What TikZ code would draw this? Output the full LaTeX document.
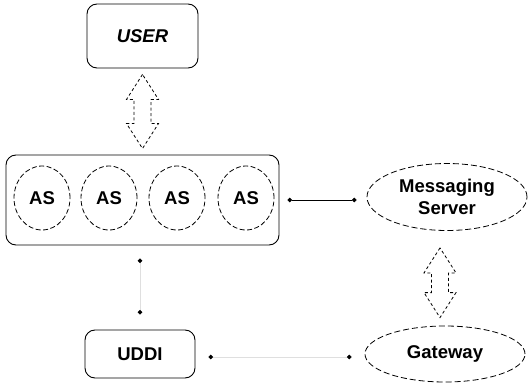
\documentclass[tikz,border=0pt]{standalone}
\usepackage{fontspec}
\setmainfont{Liberation Sans}
\usetikzlibrary{shapes.geometric,arrows.meta,calc}

\tikzset{
    label font/.style={font=\fontsize{18.5}{22}\selectfont\bfseries},
    roundbox/.style={draw, rounded corners=10pt, line width=0.9pt, label font},
    agent/.style={draw, ellipse, dashed, dash pattern=on 5pt off 2.5pt, line width=0.8pt, minimum width=56, minimum height=64, inner sep=0pt, label font},
    server/.style={draw, ellipse, dash pattern=on 6pt off 3pt, line width=0.8pt, inner sep=0pt, align=center, label font},
    link/.style={line width=0.7pt, {Circle[black,length=4.5pt]}-{Circle[black,length=4.5pt]}},
    faintlink/.style={link, draw=gray!25},
    blockarrow/.style={draw, dash pattern=on 3pt off 2.5pt, line width=0.8pt},
}

% vertical hollow double arrow between two points
\newcommand{\dblarrow}[2]{%
    \draw[blockarrow] let \p1=(#1), \p2=(#2) in
        (\p1) -- (\x1-16,\y1-25) -- (\x1-8.5,\y1-25) -- (\x1-8.5,\y2+25)
        -- (\x1-16,\y2+25) -- (\p2) -- (\x1+16,\y2+25) -- (\x1+8.5,\y2+25)
        -- (\x1+8.5,\y1-25) -- (\x1+16,\y1-25) -- cycle;
}

\begin{document}
\begin{tikzpicture}[x=1pt,y=-1pt]
    \useasboundingbox (0,0) rectangle (528,385);

        \node[roundbox, minimum width=111, minimum height=64] (user) at (142.5,36) {\itshape USER};
        \node[roundbox, minimum width=273, minimum height=90] (asbox) at (142.5,200) {};
        \node[agent] (as1) at (42,198) {AS};
        \node[agent] (as2) at (109,198) {AS};
        \node[agent] (as3) at (177,198) {AS};
        \node[agent] (as4) at (246,198) {AS};
        \node[server, minimum width=160, minimum height=67] (msg) at (447,197) {Messaging\\Server};
        \node[roundbox, minimum width=110, minimum height=48] (uddi) at (140,354) {UDDI};
        \node[server, minimum width=160, minimum height=56] (gw) at (445,354) {Gateway};

        \coordinate (usertip) at ($(user.south)+(0,6)$);
        \coordinate (astip) at ($(asbox.north)+(0,-6)$);
        \coordinate (msgtip) at ($(msg.south)+(-7,17)$);
        \coordinate (gwtip) at ($(gw.north)+(-5,-8)$);

        \dblarrow{usertip}{astip}
        \dblarrow{msgtip}{gwtip}

        \draw[link, shorten <=8pt, shorten >=10pt] (asbox.east |- msg.west) ++(0,3) coordinate (a1) (a1) -- (a1 -| msg.west);
        \draw[faintlink, shorten <=13pt, shorten >=15pt] (uddi.north |- asbox.south) -- (uddi.north);
        \draw[faintlink, shorten <=13pt, shorten >=13pt] (uddi.east) ++(0,3) coordinate (u1) (u1) -- (u1 -| gw.west);

\end{tikzpicture}
\end{document}
